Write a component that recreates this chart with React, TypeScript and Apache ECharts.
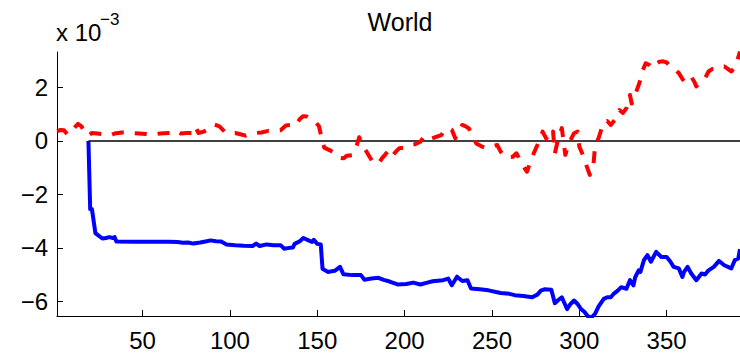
import React, { useEffect, useRef } from "react";
import * as echarts from "echarts";

const titleText = "World";
const xTicks = [50, 100, 150, 200, 250, 300, 350];
const yTicks = [-6, -4, -2, 0, 2];
const xMin = 1;
const xMax = 392;
const yMin = -6.55;
const yMax = 3.33;

const zeroX = [19, 392];
const zeroY = [0, 0];

const blueX = [19, 20, 21, 23, 25, 27, 29, 31, 33, 34, 35, 45, 55, 65, 70, 73, 76, 79, 83, 86, 89, 92, 95, 98, 103, 108, 113, 115, 117, 121, 125, 129, 131, 134, 136, 137, 140, 142, 145, 147, 148, 150, 152, 153, 156, 160, 163, 165, 170, 175, 177, 181, 185, 188, 191, 196, 201, 205, 209, 213, 216, 222, 225, 227, 230, 233, 236, 238, 243, 248, 255, 260, 263, 268, 273, 276, 278, 280, 284, 286, 288, 290, 293, 295, 297, 299, 301, 303, 305, 307, 309, 311, 314, 316, 318, 320, 322, 324, 327, 329, 331, 332, 334, 335, 337, 339, 341, 344, 347, 350, 352, 354, 357, 359, 360, 362, 364, 367, 370, 372, 374, 377, 380, 383, 387, 389, 391, 392];
const blueY = [0, -2.55, -2.55, -3.45, -3.55, -3.65, -3.63, -3.6, -3.63, -3.6, -3.76, -3.77, -3.77, -3.77, -3.78, -3.81, -3.8, -3.84, -3.8, -3.76, -3.72, -3.75, -3.76, -3.87, -3.9, -3.92, -3.93, -3.84, -3.93, -3.87, -3.9, -3.9, -4.03, -4.0, -3.99, -3.85, -3.75, -3.63, -3.72, -3.78, -3.7, -3.85, -3.87, -4.78, -4.9, -4.86, -4.71, -4.99, -5.02, -5.02, -5.19, -5.15, -5.12, -5.2, -5.25, -5.37, -5.35, -5.3, -5.37, -5.3, -5.25, -5.21, -5.15, -5.4, -5.08, -5.24, -5.21, -5.52, -5.55, -5.59, -5.69, -5.72, -5.77, -5.8, -5.85, -5.75, -5.6, -5.55, -5.57, -6.07, -5.95, -5.85, -6.29, -6.1, -5.97, -6.1, -6.29, -6.4, -6.57, -6.6, -6.47, -6.2, -5.91, -5.85, -5.85, -5.7, -5.6, -5.47, -5.53, -5.21, -5.4, -5.1, -4.84, -4.9, -4.46, -4.27, -4.52, -4.15, -4.34, -4.34, -4.5, -4.71, -4.77, -5.09, -4.9, -4.71, -4.95, -5.21, -4.96, -5.0, -4.84, -4.71, -4.49, -4.65, -4.77, -4.46, -4.4, -4.05];

const redX = [1, 3, 5, 7, 9, 11, 13, 15, 17, 19, 21, 24, 28, 32, 34, 38, 43, 48, 52, 55, 60, 65, 68, 70, 72, 75, 78, 80, 82, 85, 88, 91, 94, 97, 99, 103, 106, 109, 112, 115, 118, 122, 126, 129, 132, 135, 137, 140, 142, 144, 146, 148, 151, 152.5, 154, 157, 160, 162, 165, 167, 170, 172, 174, 177, 180, 182, 185, 187, 189, 191, 193, 195, 197, 200, 203, 206, 209, 211, 214, 218, 221, 223, 225, 227, 229, 231, 233, 235, 237, 239, 241, 244, 247, 250, 253, 255, 257, 260, 262, 264, 266, 268, 270, 272, 274, 276, 278, 279, 281, 283, 285, 286, 288, 290, 292, 293, 295, 297, 299, 300, 302, 304, 306, 308, 309, 311, 314, 316, 318, 321, 323, 325, 327, 329, 330, 331, 333, 335, 336, 338, 340, 342, 344, 346, 348, 350, 352, 355, 357, 360, 362, 364, 366, 367, 369, 372, 374, 376, 378, 381, 383, 385, 387, 389, 390, 392];
const redY = [0.37, 0.41, 0.4, 0.24, 0.3, 0.5, 0.64, 0.55, 0.3, 0.2, 0.3, 0.28, 0.25, 0.22, 0.28, 0.32, 0.3, 0.28, 0.26, 0.23, 0.28, 0.3, 0.31, 0.37, 0.28, 0.3, 0.3, 0.55, 0.3, 0.35, 0.45, 0.62, 0.55, 0.35, 0.28, 0.3, 0.25, 0.2, 0.27, 0.3, 0.32, 0.38, 0.38, 0.4, 0.58, 0.6, 0.55, 0.82, 0.93, 0.92, 0.85, 0.78, 0.55, 0.1, -0.25, -0.34, -0.45, -0.62, -0.65, -0.55, -0.53, -0.3, 0.14, -0.27, -0.6, -0.8, -0.86, -0.65, -0.5, -0.34, -0.55, -0.4, -0.27, -0.25, -0.15, -0.12, -0.03, 0.16, 0.05, 0.15, 0.22, 0.4, 0.48, 0.42, 0.1, 0.35, 0.6, 0.55, 0.45, 0.15, -0.09, -0.2, -0.27, -0.2, -0.15, -0.4, -0.59, -0.6, -0.59, -0.46, -0.7, -0.95, -1.15, -0.8, -0.45, -0.15, 0.15, 0.35, 0.1, 0.0, 0.35, -0.46, 0.1, 0.48, -0.52, -0.3, 0.04, 0.29, 0.35, -0.21, -0.52, -0.9, -1.27, -0.96, -0.21, 0.1, 0.72, 0.75, 0.6, 0.85, 1.16, 1.05, 1.23, 1.72, 1.4, 1.54, 1.91, 2.29, 2.6, 2.91, 2.85, 2.73, 2.9, 2.97, 2.98, 2.94, 2.79, 2.65, 2.54, 2.22, 2.35, 2.41, 2.2, 2.04, 2.2, 2.35, 2.6, 2.69, 2.7, 2.75, 2.79, 2.7, 2.6, 2.75, 2.91, 3.35];

const FONT = "'Liberation Sans', Arial, Helvetica, sans-serif";

function pairs(xs: number[], ys: number[]) {
  return xs.map((x, i) => [x, ys[i]]);
}

function fmt(v: number) {
  return String(v).replace("-", "\u2212");
}

export default function App() {
  const ref = useRef<HTMLDivElement>(null);
  useEffect(() => {
    if (!ref.current) return;
    const chart = echarts.init(ref.current, undefined, { renderer: "svg" });
    chart.setOption({
      animation: false,
      backgroundColor: "#ffffff",
      grid: { left: 57, top: 52, right: 0, bottom: 38, containLabel: false },
      graphic: [
        {
          type: "text",
          x: 400,
          y: 22,
          style: {
            text: titleText,
            fontSize: 25,
            fontFamily: FONT,
            fill: "#000",
            textAlign: "center",
            textVerticalAlign: "middle",
          },
        },
        {
          type: "text",
          x: 56,
          y: 32,
          style: {
            text: "x 10",
            fontSize: 24,
            fontFamily: FONT,
            fill: "#000",
            textAlign: "left",
            textVerticalAlign: "middle",
          },
        },
        {
          type: "text",
          x: 100,
          y: 19.5,
          style: {
            text: "\u22123",
            fontSize: 17,
            fontFamily: FONT,
            fill: "#000",
            textAlign: "left",
            textVerticalAlign: "middle",
          },
        },
      ],
      xAxis: {
        type: "value",
        min: xMin,
        max: xMax,
        axisLine: { show: true, onZero: false, lineStyle: { color: "#000", width: 1 } },
        axisTick: { show: true, inside: true, length: 6, customValues: xTicks, lineStyle: { color: "#000" } },
        axisLabel: {
          show: true,
          customValues: xTicks,
          margin: 12,
          fontSize: 24,
          fontFamily: FONT,
          color: "#000",
          formatter: (v: number) => fmt(v),
        },
        splitLine: { show: false },
      },
      yAxis: {
        type: "value",
        min: yMin,
        max: yMax,
        axisLine: { show: true, onZero: false, lineStyle: { color: "#000", width: 1 } },
        axisTick: { show: true, inside: true, length: 6, customValues: yTicks, lineStyle: { color: "#000" } },
        axisLabel: {
          show: true,
          customValues: yTicks,
          margin: 9,
          fontSize: 24,
          fontFamily: FONT,
          color: "#000",
          formatter: (v: number) => fmt(v),
        },
        splitLine: { show: false },
      },
      series: [
        {
          type: "line",
          data: pairs(zeroX, zeroY),
          symbol: "none",
          lineStyle: { color: "#000", width: 1.4 },
          silent: true,
          z: 1,
        },
        {
          type: "line",
          data: pairs(blueX, blueY),
          symbol: "none",
          lineStyle: { color: "#0000ff", width: 4, join: "round" },
          z: 2,
        },
        {
          type: "line",
          data: pairs(redX, redY),
          symbol: "none",
          lineStyle: { color: "#ff0000", width: 4, type: [12, 11], join: "round" },
          z: 3,
        },
      ],
    });
    return () => chart.dispose();
  }, []);
  return (
    <div
      ref={ref}
      style={{ position: "fixed", left: 0, top: 0, width: 740, height: 354, background: "#fff" }}
    />
  );
}
